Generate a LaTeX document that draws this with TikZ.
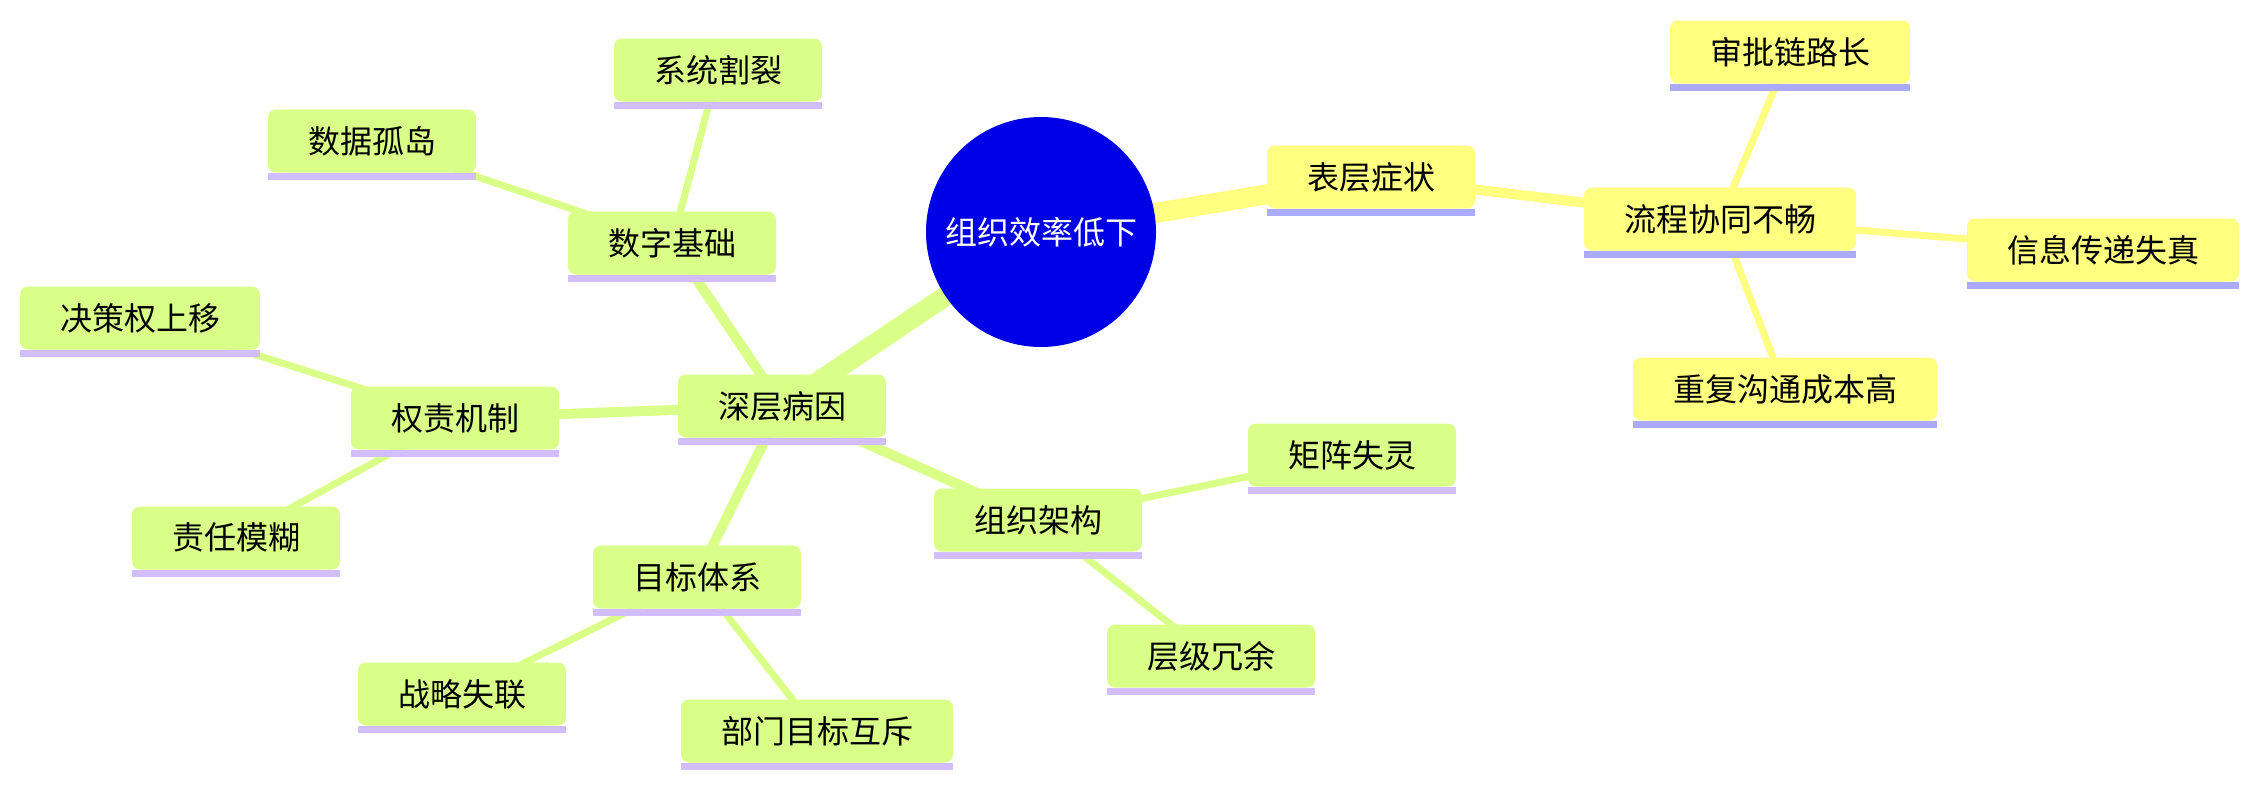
\documentclass[tikz,border=0pt]{standalone}
\usepackage{fontspec}
\newfontfamily\cjk{Noto Sans CJK SC}
\usepackage{tikz}
\usetikzlibrary{backgrounds}
\definecolor{rootblue}{RGB}{0,0,230}
\definecolor{symfill}{RGB}{255,255,128}
\definecolor{symbar}{RGB}{170,170,255}
\definecolor{causefill}{RGB}{217,255,136}
\definecolor{causebar}{RGB}{210,190,255}

\begin{document}
\begin{tikzpicture}[
    x=0.5pt, y=-0.5pt,
    root/.style={circle, fill=rootblue, text=white, minimum size=115pt, inner sep=0pt, font=\cjk\fontsize{16}{16}\selectfont},
    box/.style={rounded corners=4pt, minimum height=31.5pt, inner xsep=20pt, inner ysep=0pt, font=\cjk\fontsize{16}{16}\selectfont},
    sym/.style={box, fill=symfill},
    cause/.style={box, fill=causefill},
    symline/.style={draw=symfill},
    causeline/.style={draw=causefill},
    lvlone/.style={line width=10pt},
    lvltwo/.style={line width=5pt},
    lvlthree/.style={line width=3.5pt},
  ]
  \useasboundingbox (0,0) rectangle (2258,787);
  \node[root] (root) at (1041,232) {组织效率低下};
  % surface symptoms
  \node[sym] (surface) at (1371,177) {表层症状};
  \node[sym] (flow) at (1720,219) {流程协同不畅};
  \node[sym] (approval) at (1790,52) {审批链路长};
  \node[sym] (distort) at (2103,250) {信息传递失真};
  \node[sym] (repeat) at (1785,389) {重复沟通成本高};
  % deep causes
  \node[cause] (deep) at (782,406) {深层病因};
  \node[cause] (digital) at (672,243) {数字基础};
  \node[cause] (split) at (718,70) {系统割裂};
  \node[cause] (silo) at (372,141) {数据孤岛};
  \node[cause] (duty) at (455,418) {权责机制};
  \node[cause] (upward) at (140,318) {决策权上移};
  \node[cause] (vague) at (236,538) {责任模糊};
  \node[cause] (goal) at (697,577) {目标体系};
  \node[cause] (strategy) at (462,694) {战略失联};
  \node[cause] (dept) at (817,731) {部门目标互斥};
  \node[cause] (struct) at (1038,520) {组织架构};
  \node[cause] (matrix) at (1352,455) {矩阵失灵};
  \node[cause] (layer) at (1211,656) {层级冗余};
  \foreach \n in {surface, flow, approval, distort, repeat}
    \fill[symbar] (\n.south west) rectangle ([yshift=-3.5pt]\n.south east);
  \foreach \n in {deep, digital, split, silo, duty, upward, vague, goal, strategy, dept, struct, matrix, layer}
    \fill[causebar] (\n.south west) rectangle ([yshift=-3.5pt]\n.south east);
  \begin{scope}[on background layer]
    \draw[symline, lvlone] (root.center) -- (surface.center);
    \draw[symline, lvltwo] (surface.center) -- (flow.center);
    \draw[symline, lvlthree] (flow.center) -- (approval.center);
    \draw[symline, lvlthree] (flow.center) -- (distort.center);
    \draw[symline, lvlthree] (flow.center) -- (repeat.center);
    \draw[causeline, lvlone] (root.center) -- (deep.center);
    \draw[causeline, lvltwo] (deep.center) -- (digital.center);
    \draw[causeline, lvltwo] (deep.center) -- (duty.center);
    \draw[causeline, lvltwo] (deep.center) -- (goal.center);
    \draw[causeline, lvltwo] (deep.center) -- (struct.center);
    \draw[causeline, lvlthree] (digital.center) -- (split.center);
    \draw[causeline, lvlthree] (digital.center) -- (silo.center);
    \draw[causeline, lvlthree] (duty.center) -- (upward.center);
    \draw[causeline, lvlthree] (duty.center) -- (vague.center);
    \draw[causeline, lvlthree] (goal.center) -- (strategy.center);
    \draw[causeline, lvlthree] (goal.center) -- (dept.center);
    \draw[causeline, lvlthree] (struct.center) -- (matrix.center);
    \draw[causeline, lvlthree] (struct.center) -- (layer.center);
  \end{scope}
\end{tikzpicture}
\end{document}
